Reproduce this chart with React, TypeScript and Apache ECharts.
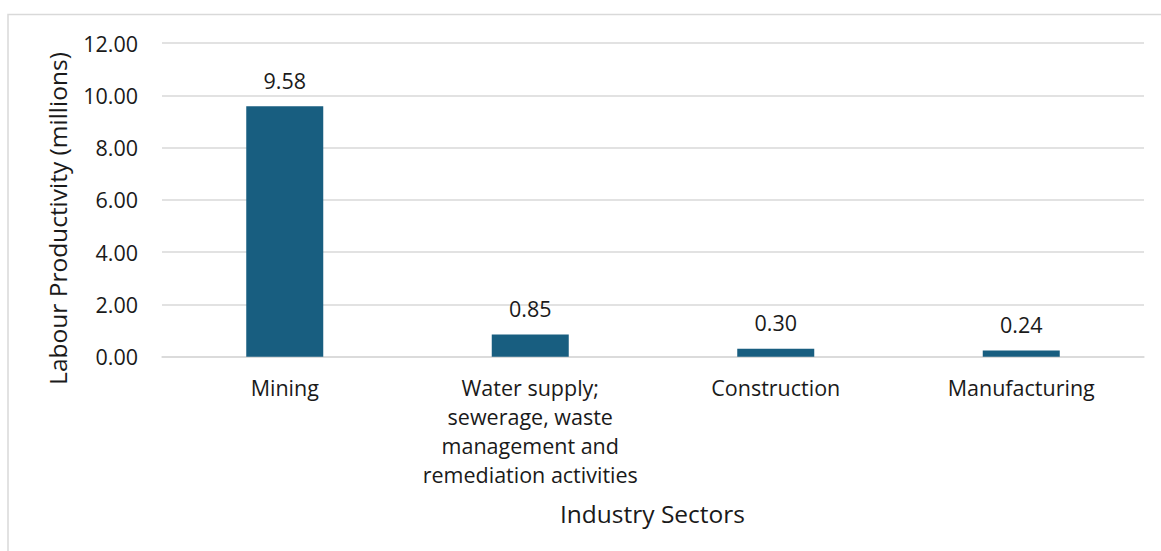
import React, { useEffect, useRef } from "react";
import * as echarts from "echarts";

const categories = [
  "Mining",
  "Water supply;\nsewerage, waste\nmanagement and\nremediation activities",
  "Construction",
  "Manufacturing",
];
const values = [9.58, 0.85, 0.3, 0.24];
const yTicks = { min: 0, max: 12, interval: 2 };
const yTitle = "Labour Productivity (millions)";
const xTitle = "Industry Sectors";

const FONT = "'Open Sans', sans-serif";
const TXT = "#1a1a1a";
const FS = 21.5;

export default function App() {
  const ref = useRef<HTMLDivElement>(null);
  useEffect(() => {
    if (!ref.current) return;
    const chart = echarts.init(ref.current, undefined, { renderer: "svg" });
    chart.setOption({
      animation: false,
      backgroundColor: "#ffffff",
      textStyle: { fontFamily: FONT },
      grid: { left: 162, right: 17, top: 43, bottom: 194.3, containLabel: false },
      xAxis: {
        type: "category",
        data: categories,
        axisLine: { show: true, lineStyle: { color: "#d9d9d9", width: 1.5 } },
        axisTick: { show: false },
        axisLabel: {
          color: TXT,
          fontSize: FS,
          fontFamily: FONT,
          margin: 16,
          lineHeight: 29,
          interval: 0,
          align: "center",
        },
      },
      yAxis: {
        type: "value",
        min: yTicks.min,
        max: yTicks.max,
        interval: yTicks.interval,
        axisLine: { show: false },
        axisTick: { show: false },
        splitLine: { lineStyle: { color: "#d9d9d9", width: 1.5 } },
        axisLabel: {
          color: TXT,
          fontSize: FS,
          fontFamily: FONT,
          margin: 24,
          formatter: (v: number) => v.toFixed(2),
        },
      },
      series: [
        {
          type: "bar",
          data: values,
          barWidth: 77,
          itemStyle: { color: "#185e80" },
          label: {
            show: true,
            position: "top",
            distance: 15,
            color: TXT,
            fontSize: FS,
            fontFamily: FONT,
            formatter: (p: any) => Number(p.value).toFixed(2),
          },
        },
      ],
      graphic: [
        {
          type: "polyline",
          shape: { points: [[8, 551], [8, 14.5], [1161, 14.5]] },
          style: { stroke: "#d9d9d9", lineWidth: 1.5, fill: "none" },
          silent: true,
        },
        {
          type: "text",
          x: 57.5,
          y: 218.5,
          rotation: Math.PI / 2,
          style: {
            text: yTitle,
            fill: TXT,
            fontSize: 24.5,
            fontFamily: FONT,
            align: "center",
            verticalAlign: "middle",
          },
        },
        {
          type: "text",
          x: 652.5,
          y: 513,
          style: {
            text: xTitle,
            fill: TXT,
            fontSize: 24.5,
            fontFamily: FONT,
            align: "center",
            verticalAlign: "middle",
          },
        },
      ],
    });
    return () => chart.dispose();
  }, []);
  return (
    <div
      ref={ref}
      style={{ position: "fixed", left: 0, top: 0, width: 1161, height: 551 }}
    />
  );
}
